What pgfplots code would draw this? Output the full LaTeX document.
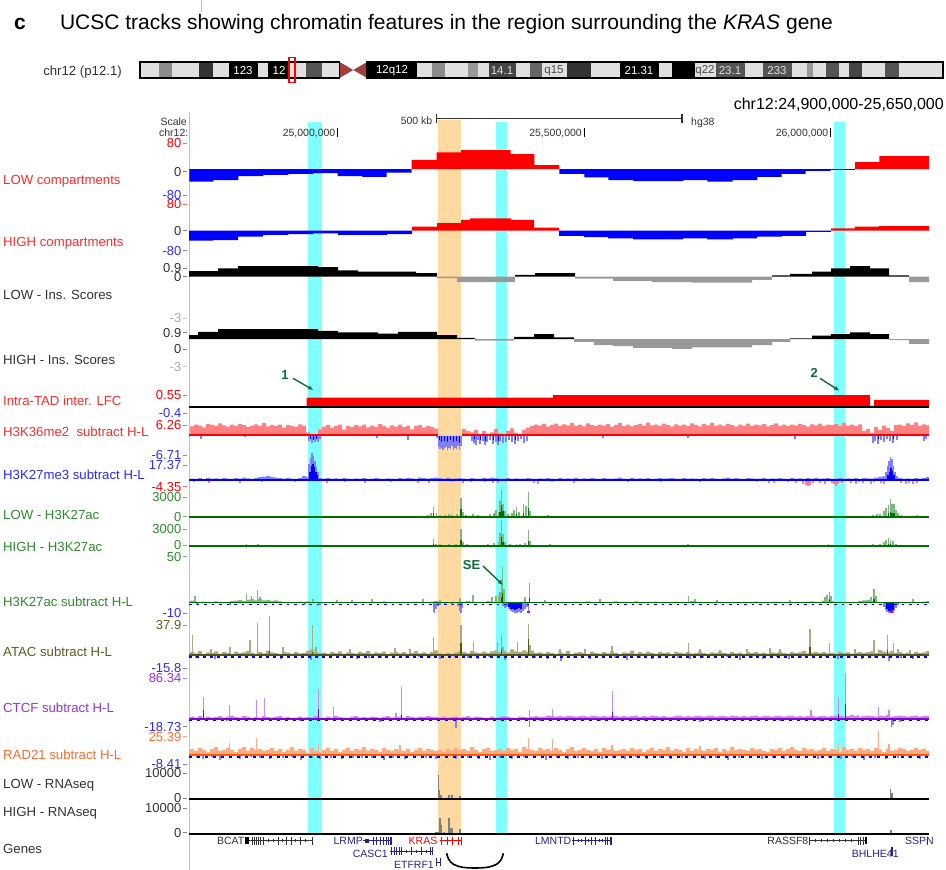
\documentclass[border=0pt]{standalone}
\usepackage{pgfplots}
\pgfplotsset{compat=1.18}
\usepackage{fontspec}
\setmainfont{Liberation Sans}
\usetikzlibrary{arrows.meta}
\definecolor{hlcyan}{HTML}{80FFFF}
\definecolor{hlorange}{HTML}{FFD9A0}
\definecolor{pinkline}{HTML}{FFAAAA}
\definecolor{ured}{HTML}{FF0000}
\definecolor{ublue}{HTML}{0000FF}
\definecolor{lred}{HTML}{FF8080}
\definecolor{lblue}{HTML}{8080FF}
\definecolor{txtred}{HTML}{FF2A2A}
\definecolor{txtblue}{HTML}{2A2AFF}
\definecolor{txtgray}{HTML}{333333}
\definecolor{lgray}{HTML}{AAAAAA}
\definecolor{gscore}{HTML}{999999}
\definecolor{dgreen}{HTML}{006E00}
\definecolor{lgreen}{HTML}{80B880}
\definecolor{txtgreen}{HTML}{2E8B2E}
\definecolor{dolive}{HTML}{555510}
\definecolor{lolive}{HTML}{AAAA80}
\definecolor{txtolive}{HTML}{5C5C24}
\definecolor{dpurple}{HTML}{8A00CC}
\definecolor{lpurple}{HTML}{CC88EE}
\definecolor{txtpurple}{HTML}{9932CC}
\definecolor{dorange}{HTML}{FF5A00}
\definecolor{lorange}{HTML}{FFAA80}
\definecolor{txtorange}{HTML}{FF6A30}
\definecolor{rnagray}{HTML}{808080}
\definecolor{navy}{HTML}{24248A}
\definecolor{annog}{HTML}{0A6B3C}
\definecolor{centro}{HTML}{A0403A}
\definecolor{idlight}{HTML}{E0E0E0}
\newcommand{\fs}[1]{\fontsize{#1pt}{#1pt}\selectfont}
\newcommand\lab[3]{\node[anchor=base west,inner sep=0pt,text=#1,font=\fs{13.2},yshift=-4.7pt] at (3pt,-#2pt) {#3};}
\newcommand\tl[3]{\node[anchor=base east,inner sep=0pt,text=#1,font=\fs{13},yshift=-4.6pt] at (181.5pt,-#2pt) {#3};\draw[#1!60,line width=0.6pt] (183pt,-#2pt)--(186.5pt,-#2pt);}
\newcommand\band[3]{\addplot[fill=#1,draw=none] coordinates {(#2,0)(#3,0)(#3,1)(#2,1)} --cycle;}
\pgfplotsset{trk/.style={scale only axis, width=740pt, xmin=189, xmax=929, hide axis, anchor=south west}}
\begin{document}
\begin{tikzpicture}
\useasboundingbox (0pt,0pt) rectangle (946pt,-870pt);
% ---------- title ----------
\node[anchor=base west,inner sep=0pt,font=\fs{21}\bfseries] at (14pt,-29.5pt) {c};
\node[anchor=base east,inner sep=0pt,font=\fs{21}] at (833pt,-29.5pt) {UCSC tracks showing chromatin features in the region surrounding the \textit{KRAS} gene};
% ---------- ideogram ----------
\node[anchor=base east,inner sep=0pt,font=\fs{13.2},text=txtgray] at (122pt,-75.2pt) {chr12 (p12.1)};
\begin{axis}[scale only axis, hide axis, width=946pt, height=16pt, xmin=0, xmax=946, ymin=0, ymax=1, at={(0pt,-78pt)}, anchor=south west, clip=false]
\band{idlight}{140}{339.5}
\band{idlight}{367.1}{943}
\band{black!45}{158.7}{171.7}
\band{black!80}{199.3}{213.4}
\band{black}{229}{257.7}
\band{black}{268}{289}
\band{black!67}{305.6}{321.8}
\band{black}{367.1}{416.6}
\band{black!45}{432.2}{445.3}
\band{black!40}{467.7}{478.1}
\band{black!73}{488.5}{515.6}
\band{black!60}{530.2}{541.7}
\band{black!80}{566.7}{591.2}
\band{black}{619.8}{658.9}
\band{black}{672}{695.4}
\band{black!67}{716.2}{744.9}
\band{black!67}{763.1}{791.8}
\band{black!40}{807.4}{812.6}
\band{black!67}{825.6}{838.7}
\band{black!73}{849.1}{862.1}
\band{black!67}{884.6}{898.6}
\addplot[fill=centro,draw=none] coordinates {(339.5,0)(339.5,1)(353.3,0.5)} --cycle;
\addplot[fill=centro,draw=none] coordinates {(367.1,0)(367.1,1)(353.3,0.5)} --cycle;
\addplot[black,line width=1.3pt] coordinates {(140,0)(339.5,0)(339.5,1)(140,1)} --cycle;
\addplot[black,line width=1.3pt] coordinates {(367.1,0)(943,0)(943,1)(367.1,1)} --cycle;
\addplot[ured,line width=1.5pt] coordinates {(289,-0.29)(295.2,-0.29)(295.2,1.27)(289,1.27)} --cycle;
\end{axis}
\begin{scope}[every node/.style={inner sep=0pt,font=\fs{11.5}}]
\node[text=white] at (243pt,-70.5pt) {123};
\node[text=white] at (279pt,-70.5pt) {12};
\node[text=white] at (392pt,-70.5pt) {12q12};
\node[text=black!12] at (502pt,-70.5pt) {14.1};
\node[text=black!70] at (554pt,-70.5pt) {q15};
\node[text=white] at (639pt,-70.5pt) {21.31};
\node[text=black!70] at (705pt,-70.5pt) {q22};
\node[text=black!12] at (730pt,-70.5pt) {23.1};
\node[text=black!12] at (777pt,-70.5pt) {233};
\end{scope}
\node[anchor=base east,inner sep=0pt,font=\fs{16}] at (944pt,-109pt) {chr12:24,900,000-25,650,000};
% ---------- background: highlights, ruler ----------
\begin{axis}[trk, at={(189pt,-870pt)}, height=760pt, ymin=0, ymax=760, clip=false]
\addplot[fill=hlcyan,draw=none] coordinates {(308,37.3)(321.7,37.3)(321.7,748.3)(308,748.3)} --cycle;
\addplot[fill=hlorange,draw=none] coordinates {(438,37)(461,37)(461,750)(438,750)} --cycle;
\addplot[fill=hlcyan,draw=none] coordinates {(496,37.3)(506.7,37.3)(506.7,748.3)(496,748.3)} --cycle;
\addplot[fill=hlcyan,draw=none] coordinates {(834,37.3)(845,37.3)(845,748.3)(834,748.3)} --cycle;
\addplot[pinkline,line width=1pt] coordinates {(189,0)(189,758.3)};
\addplot[pinkline,line width=0.8pt] coordinates {(201,858)(201,870)};
\addplot[txtgray,line width=1.3pt] coordinates {(436.7,751.7)(682,751.7)};
\addplot[txtgray,line width=1.3pt] coordinates {(436.7,747)(436.7,756.5)};
\addplot[txtgray,line width=1.3pt] coordinates {(682,747)(682,756.5)};
\addplot[black,line width=1pt] coordinates {(337.7,733.3)(337.7,742)};
\addplot[black,line width=1pt] coordinates {(584.3,733.3)(584.3,742)};
\addplot[black,line width=1pt] coordinates {(830.7,733.3)(830.7,742)};
\end{axis}
\begin{scope}[every node/.style={inner sep=0pt,font=\fs{10.5},text=txtgray}]
\node[anchor=base east] at (187pt,-125.5pt) {Scale};
\node[anchor=base east] at (188.5pt,-136.8pt) {chr12:};
\node[anchor=base east] at (335.5pt,-136.8pt) {25,000,000};
\node[anchor=base east] at (582pt,-136.8pt) {25,500,000};
\node[anchor=base east] at (828.5pt,-136.8pt) {26,000,000};
\node[anchor=base east] at (432.5pt,-124.5pt) {500 kb};
\node[anchor=base west] at (691pt,-125.5pt) {hg38};
\end{scope}
% ---------- LOW compartments ----------
\begin{axis}[trk, at={(189pt,-195pt)}, height=52pt, ymin=-80, ymax=80]
\addplot[const plot,fill=ured,draw=none] coordinates {(411.7,28)(436.7,51)(461,58)(510.7,46)(534.3,12)(559.3,12)} \closedcycle;
\addplot[const plot,fill=ured,draw=none] coordinates {(855,21)(879.3,40)(929,40)} \closedcycle;
\addplot[const plot,fill=ublue,draw=none] coordinates {(189.3,-39)(213.3,-34)(238.3,-22)(263.3,-18)(288.3,-15)(313.3,-13)(337.7,-22)(362.3,-24)(386.7,-11)(411.7,-11)} \closedcycle;
\addplot[const plot,fill=ublue,draw=none] coordinates {(559.3,-15)(584.3,-26)(608.3,-34)(633.3,-37)(683.3,-34)(707.3,-39)(732.7,-34)(757.3,-24)(781.7,-15)(805.7,-6)(830.7,-3)(855,-3)} \closedcycle;
\end{axis}
% ---------- HIGH compartments ----------
\begin{axis}[trk, at={(189pt,-256pt)}, height=51pt, ymin=-80, ymax=80]
\addplot[const plot,fill=ublue,draw=none] coordinates {(189,-32)(213,-30)(238,-19)(263,-14)(288,-11)(313,-9)(338,-14)(363,-14)(387,-11)(412,-11)} \closedcycle;
\addplot[const plot,fill=ured,draw=none] coordinates {(412,12)(437,23)(461,33)(470,38)(511,33)(534,9)(559,9)} \closedcycle;
\addplot[const plot,fill=ublue,draw=none] coordinates {(559,-17)(584,-21)(608,-25)(633,-28)(683,-25)(707,-28)(733,-25)(757,-19)(782,-17)(806,-4)(831,-4)} \closedcycle;
\addplot[const plot,fill=ured,draw=none] coordinates {(831,7)(855,12)(879,14)(929,14)} \closedcycle;
\end{axis}
% ---------- LOW Ins ----------
\begin{axis}[trk, at={(189pt,-309.5pt)}, height=42.9pt, ymin=-3, ymax=0.9]
\addplot[const plot,fill=black,draw=none] coordinates {(189,0.5)(218,0.75)(238,1.05)(258,1.2)(298,1.1)(318,0.85)(338,0.55)(358,0.45)(416,0.3)(437,0.3)} \closedcycle;
\addplot[const plot,fill=gscore,draw=none] coordinates {(437,-0.15)(457,-0.5)(515,-0.5)} \closedcycle;
\addplot[const plot,fill=black,draw=none] coordinates {(515,0.15)(535,0.3)(575,0.3)} \closedcycle;
\addplot[const plot,fill=gscore,draw=none] coordinates {(575,-0.2)(613,-0.4)(652,-0.5)(692,-0.55)(752,-0.3)(772,-0.3)} \closedcycle;
\addplot[const plot,fill=black,draw=none] coordinates {(772,0.1)(790,0.25)(812,0.45)(831,0.75)(850,0.95)(870,0.75)(889,0.1)(909,0.1)} \closedcycle;
\addplot[const plot,fill=gscore,draw=none] coordinates {(909,-0.5)(929,-0.5)} \closedcycle;
\end{axis}
% ---------- HIGH Ins ----------
\begin{axis}[trk, at={(189pt,-372pt)}, height=42.9pt, ymin=-3, ymax=0.9]
\addplot[const plot,fill=black,draw=none] coordinates {(189,0.35)(198,0.65)(218,0.9)(238,1.2)(278,1.05)(318,0.75)(338,0.6)(378,0.5)(398,0.65)(437,0.35)(457,0.1)(475,0.1)} \closedcycle;
\addplot[const plot,fill=gscore,draw=none] coordinates {(475,-0.15)(514,-0.15)} \closedcycle;
\addplot[const plot,fill=black,draw=none] coordinates {(514,0.2)(534,0.45)(554,0.15)(574,0.15)} \closedcycle;
\addplot[const plot,fill=gscore,draw=none] coordinates {(574,-0.25)(594,-0.55)(613,-0.65)(633,-0.8)(672,-0.9)(692,-0.75)(752,-0.55)(772,-0.25)(790,-0.25)} \closedcycle;
\addplot[const plot,fill=black,draw=none] coordinates {(790,0.05)(812,0.3)(831,0.45)(850,0.6)(870,0.45)(889,0.45)} \closedcycle;
\addplot[const plot,fill=gscore,draw=none] coordinates {(889,-0.1)(909,-0.45)(929,-0.45)} \closedcycle;
\end{axis}
% ---------- Intra-TAD LFC ----------
\begin{axis}[trk, at={(189pt,-414.7pt)}, height=20.7pt, ymin=-0.4, ymax=0.55]
\addplot[black,line width=1.5pt] coordinates {(189,-0.04)(929,-0.04)};
\addplot[const plot,fill=ured,draw=none] coordinates {(306.7,0.38)(553,0.50)(870,0)(874,0.275)(929,0.275)} \closedcycle;
\end{axis}
% ---------- H3K36me2 ----------
\begin{axis}[trk, at={(189pt,-450pt)}, height=28pt, ymin=-6.71, ymax=6.26]
\addplot[const plot,fill=lred,draw=none] table[x expr=190+4*\coordindex, y index=0, row sep=\\] {
4.2\\5.1\\4.6\\3.8\\5.3\\4.9\\4.4\\5.6\\4.7\\4.1\\
5.0\\4.3\\5.4\\4.8\\3.9\\4.6\\5.2\\4.5\\5.7\\4.2\\
4.9\\4.4\\5.1\\3.7\\4.8\\4.3\\4.0\\5.2\\4.6\\1.5\\
0.6\\0\\2.8\\4.1\\4.9\\3.6\\4.4\\5.0\\2.7\\4.5\\
3.9\\4.8\\4.2\\5.1\\3.8\\4.6\\4.0\\5.3\\4.4\\3.5\\
4.7\\4.1\\5.0\\3.9\\4.5\\2.9\\4.3\\4.8\\3.7\\4.4\\
4.0\\3.2\\0\\0\\0\\0\\0\\0\\3.0\\2.2\\
1.5\\2.6\\0.5\\2.0\\0\\1.4\\3.1\\1.0\\0\\2.2\\
3.3\\1.2\\0.4\\2.6\\3.6\\4.3\\5.0\\4.6\\5.4\\4.1\\
4.9\\5.5\\4.4\\5.2\\4.7\\5.8\\4.5\\5.0\\4.2\\5.6\\
4.8\\4.3\\5.1\\4.6\\5.3\\4.0\\4.9\\5.7\\4.4\\5.0\\
4.2\\4.8\\5.4\\4.5\\6.0\\4.7\\5.1\\4.3\\5.5\\4.8\\
4.1\\5.2\\4.6\\5.0\\4.4\\5.6\\4.9\\4.2\\5.3\\4.7\\
5.9\\4.5\\5.0\\4.3\\5.4\\4.8\\4.1\\5.1\\4.6\\5.5\\
4.4\\5.0\\4.7\\5.3\\4.2\\4.9\\5.6\\4.5\\5.1\\4.3\\
5.0\\4.6\\5.4\\4.8\\4.1\\5.2\\4.7\\5.5\\4.4\\5.0\\
4.8\\5.3\\4.5\\5.7\\4.6\\5.0\\4.3\\5.2\\2.0\\3.1\\
1.2\\4.0\\2.5\\4.6\\3.4\\2.2\\4.8\\5.1\\4.4\\5.6\\
4.9\\6.1\\4.5\\5.2\\4.7\\4.7\\
} \closedcycle;
\addplot[ycomb,lblue,line width=1.2pt] coordinates {(201,-1.5)(245,-0.8)(309,-2.5)(312,-3.4)(315,-2.8)(318,-3.0)(320,-1.8)(377,-1.2)(408,-2.2)(437,-1)
(438.5,-5.2)(440,-6.3)(441.5,-5.8)(443,-6.7)(444.5,-6.0)(446,-5.5)(447.5,-6.5)(449,-5.9)(450.5,-6.2)(452,-5.0)(453.5,-6.6)(455,-5.7)(456.5,-6.1)(458,-4.8)(459.5,-6.7)(461,-5.0)
(472,-2.5)(474,-3.5)(476,-4.2)(478,-2.0)(480,-3.8)(483,-2.6)(485,-4.5)(487,-3.0)(490,-2.2)(493,-4.0)(496,-3.1)(498,-4.6)(500,-2.4)(503,-3.6)(506,-2.8)(509,-1.9)(512,-3.2)(515,-3.9)(518,-2.5)(521,-1.8)(524,-3.4)(527,-2.6)
(603,-1.2)(688,-1.0)(795,-1.5)(873,-3.5)(875,-2.6)(878,-4.0)(881,-2.2)(884,-3.1)(887,-1.8)(890,-2.7)(893,-3.3)(897,-2.0)(924,-2.4)(926,-1.6)};
\addplot[ured,line width=2pt] coordinates {(189,0.35)(438,0.35)};
\addplot[ured,line width=2pt] coordinates {(462,0.35)(929,0.35)};
\addplot[ycomb,ublue,line width=1pt] coordinates {(310,-1.5)(313,-2)(316,-1.6)(439,-2)(441,-3)(444,-2.5)(447,-3.2)(450,-2)(453,-3)(456,-2.4)(459,-3.4)(474,-1.5)(480,-2)(485,-2.4)(493,-2)(498,-2.6)(515,-2)(878,-1.8)(893,-1.5)};
\end{axis}
% ---------- H3K27me3 ----------
\begin{axis}[trk, at={(189pt,-487pt)}, height=34.5pt, ymin=-4.35, ymax=17.37]
\addplot[const plot,fill=lblue,draw=none] table[x expr=190+4*\coordindex, y index=0, row sep=\\] {
1.0\\0.8\\1.2\\0.6\\1.4\\0.9\\1.1\\0.7\\1.3\\1.0\\
0.8\\1.2\\0.9\\1.5\\1.1\\0.7\\1.3\\1.8\\2.2\\2.6\\
2.0\\1.5\\1.2\\0.9\\1.4\\1.0\\0.8\\1.2\\2.5\\2.0\\
3.5\\2.5\\1.2\\1.0\\1.3\\0.9\\1.1\\0.8\\1.2\\1.0\\
0.7\\1.1\\0.9\\1.2\\0.8\\1.0\\1.3\\0.9\\0.7\\1.1\\
1.0\\0.8\\1.2\\0.9\\1.4\\1.1\\0.8\\1.6\\1.2\\1.0\\
1.3\\1.5\\1.2\\1.0\\1.4\\0.9\\1.1\\1.3\\1.0\\0.8\\
1.2\\1.0\\0.9\\1.4\\1.1\\1.6\\1.2\\0.9\\1.0\\1.3\\
0.8\\1.1\\1.0\\0.9\\1.2\\1.0\\0.8\\1.1\\0.9\\1.3\\
1.0\\0.7\\1.2\\0.9\\1.1\\1.0\\1.4\\0.8\\1.1\\0.9\\
1.2\\1.0\\0.8\\1.3\\1.0\\0.9\\1.1\\1.5\\1.0\\0.8\\
1.2\\0.9\\1.1\\1.0\\1.3\\0.8\\1.0\\1.2\\0.9\\1.1\\
1.4\\1.0\\0.8\\1.2\\0.9\\1.1\\1.0\\0.7\\1.2\\0.9\\
1.3\\1.0\\0.8\\1.1\\1.5\\0.9\\1.2\\1.0\\0.8\\1.3\\
1.1\\0.9\\1.0\\1.4\\0.8\\1.1\\0.9\\1.2\\1.0\\0.7\\
1.3\\1.0\\1.1\\0.8\\1.2\\1.0\\1.4\\0.9\\1.1\\1.2\\
0.8\\1.0\\1.3\\0.9\\1.1\\1.0\\1.2\\0.8\\1.4\\1.1\\
0.9\\1.6\\2.0\\2.4\\1.5\\1.2\\0.9\\1.3\\1.0\\1.1\\
0.8\\1.2\\1.0\\1.4\\1.8\\1.8\\
} \closedcycle;
\addplot[ycomb,lblue,line width=1.3pt] coordinates {(309,10)(310.5,14)(312,17)(313.5,15)(315,12)(316.5,8)(318,5)(886,5)(887.5,9)(889,12)(890.5,14.5)(892,13)(893.5,9)(895,5)(897,2.5)};
\addplot[ycomb,lred,line width=1.2pt] coordinates {(194,-1.2)(209,-1.8)(240,-2)(262,-1.5)(295,-1.4)(327,-1.8)(345,-1)(365,-1.6)(391,-1.2)(418,-2)(429,-1.7)(452,-1.5)(463,-1.9)(471,-1.5)(485,-1)(493,-1.8)(498,-2)(534,-1.8)(538,-2.2)(552,-1.2)(574,-1.8)(628,-1.2)(661,-1.5)(700,-1)(757,-1.3)(769,-1.6)(774,-1.9)(788,-1.2)(796,-1.8)(803,-2.2)(806,-3.0)(808,-3.8)(810,-2.8)(813,-2.0)(820,-1.6)(825,-2.2)(832,-1.8)(834,-2.6)(836,-3.5)(838,-2.4)(842,-1.8)(851,-1.6)(856,-2.2)(859,-1.4)(863,-1.9)(871,-2.4)(874,-1.5)(881,-1.8)(884,-2.4)(901,-1.6)(906,-2.2)(909,-1.9)(913,-2.5)(917,-2.0)};
\addplot[ublue,line width=2pt] coordinates {(189,0)(929,0)};
\addplot[ycomb,ublue,line width=1.2pt] coordinates {(310,5)(311.5,9)(313,10)(314.5,8)(316,5)(317.5,3)(888,3)(889.5,5)(891,7.5)(892.5,6)(894,3)};
\end{axis}
% ---------- LOW H3K27ac ----------
\begin{axis}[trk, at={(189pt,-519pt)}, height=29pt, ymin=-215, ymax=3000]
\addplot[ycomb,lgreen,line width=1.2pt] coordinates {(312,150)(428,250)(431,400)(433.3,1150)(436.7,400)(440,200)(445,250)(449,300)(452,250)(457,350)(461,2100)(463,600)(466,250)(473,300)(478,200)(484,150)(490,350)(494,500)(496,800)(498.3,600)(500,1800)(501.7,3100)(503,1500)(505,700)(508,300)(512,500)(514,800)(516.7,1150)(519,600)(523.3,1500)(526,1200)(528.3,2800)(530,700)(535,150)(543,150)(548,200)(551,150)(600,100)(688,150)(787,100)(837,150)(873,250)(877,350)(880,300)(884,700)(886,1000)(888.3,1300)(890.7,1970)(892,1400)(894,1500)(896,800)(898,400)(901,250)(910,150)(917,200)(920,150)};
\addplot[dgreen,line width=2.5pt] coordinates {(189,0)(929,0)};
\addplot[ycomb,dgreen,line width=1.2pt] coordinates {(433.3,400)(461,900)(500,600)(501.7,1300)(503,700)(516.7,300)(523.3,500)(528.3,1000)(888.3,400)(890.7,590)(892,500)(894,400)};
\end{axis}
% ---------- HIGH H3K27ac ----------
\begin{axis}[trk, at={(189pt,-548pt)}, height=28pt, ymin=-215, ymax=3000]
\addplot[ycomb,lgreen,line width=1.2pt] coordinates {(246.7,250)(250,150)(258,200)(312,150)(428,150)(433.3,770)(436,300)(440,200)(449,250)(456,250)(461,1950)(463,500)(467,200)(488,200)(494,400)(498.3,500)(500,1500)(501.7,3000)(503,1400)(505,500)(510,300)(516.7,300)(520,200)(525,400)(528.3,1850)(530,600)(550,250)(688,200)(828.3,200)(873,200)(880,300)(884,500)(886,700)(888.3,890)(890.7,700)(893,600)(896,300)};
\addplot[dgreen,line width=2.5pt] coordinates {(189,0)(929,0)};
\addplot[ycomb,dgreen,line width=1.2pt] coordinates {(433.3,250)(461,700)(501.7,1070)(503,500)(528.3,600)(888.3,300)(890.7,250)};
\end{axis}
% ---------- H3K27ac subtract ----------
\begin{axis}[trk, at={(189pt,-612.5pt)}, height=56.5pt, ymin=-10, ymax=50]
\addplot[const plot,fill=lgreen,draw=none] table[x expr=190+4*\coordindex, y index=0, row sep=\\] {
2.5\\1.2\\0.8\\1.6\\0.5\\1.0\\1.8\\1.2\\0.6\\1.4\\
2.0\\2.6\\3.2\\2.2\\3.8\\4.5\\3.0\\4.2\\2.8\\3.5\\
2.4\\3.0\\1.8\\1.2\\0.6\\1.0\\0.8\\1.5\\1.0\\1.8\\
0.8\\1.2\\0.5\\0.8\\1.2\\0.6\\1.0\\1.4\\0.7\\1.1\\
0.5\\0.9\\1.3\\1.6\\1.0\\1.4\\0.8\\1.2\\1.8\\1.0\\
0.6\\1.4\\1.1\\0.8\\1.2\\1.0\\1.5\\0.7\\1.3\\1.0\\
1.6\\2.0\\0\\0\\0\\0\\0\\0\\1.5\\2.4\\
1.2\\1.0\\0.8\\1.4\\2.0\\1.0\\1.6\\2.5\\0\\0\\
0\\0\\0\\0\\0\\0.5\\1.0\\1.2\\1.4\\0.8\\
1.2\\1.0\\0.6\\1.3\\1.1\\0.9\\1.5\\1.0\\1.2\\1.8\\
1.4\\1.0\\1.6\\1.2\\0.8\\1.4\\1.9\\1.1\\1.5\\1.0\\
1.3\\1.7\\1.2\\0.9\\1.4\\1.1\\1.6\\1.0\\1.3\\0.8\\
1.2\\1.5\\1.0\\1.4\\0.9\\2.0\\1.6\\1.2\\0.8\\1.2\\
1.0\\1.4\\1.1\\0.7\\1.3\\1.0\\1.2\\0.9\\1.4\\1.0\\
1.2\\1.6\\1.1\\1.3\\0.9\\1.2\\1.5\\1.1\\1.0\\1.4\\
0.8\\1.2\\1.0\\1.3\\1.6\\1.8\\1.2\\1.4\\2.5\\3.0\\
2.2\\1.0\\1.3\\1.0\\1.1\\0.9\\1.4\\2.0\\2.8\\3.5\\
2.2\\1.5\\1.0\\0\\0\\0\\0\\1.0\\1.2\\0.8\\
1.4\\1.0\\1.3\\1.6\\2.0\\2.0\\
} \closedcycle;
\addplot[ycomb,lgreen,line width=1.2pt] coordinates {(195,8)(246.7,10)(251.7,8)(257.7,14)(260,6)(313,4)(337,3)(352,3)(372,4)(423,4)(440,3)(460,5)(473,9)(492,6)(496,7)(498.3,9)(500,12)(501.7,25)(502.7,38)(504,15)(525,6)(529.3,21)(545,3)(600,4)(688.3,7)(695,4)(717,3)(790,3)(825,6)(827,9)(829.3,12)(831,7)(871,6)(874,15)(876,7)(913,4)};
\addplot[ycomb,lblue,line width=1.2pt] coordinates {(197,-1.5)(230,-2)(305,-1.5)(320,-2)(433.5,-9)(434.5,-11)(436,-6)(438,-3)(440,-2)(445,-2.5)(452,-2)(458,-3)(460,-8)(461,-11)(462,-5)(503,-3)(505,-5)(507,-4)(509,-6)(511,-8)(513,-9)(515,-10)(517,-11)(519,-9)(521,-11)(523,-8)(525,-6)(527,-4)(528.5,-11)(884,-4)(885.5,-7)(887,-9)(888.5,-11)(890,-11)(891.5,-11)(893,-11)(894.5,-8)(896,-5)(898,-2)};
\addplot[dgreen,line width=1.2pt] coordinates {(189,0.3)(929,0.3)};
\addplot[ublue,line width=1.6pt,dash pattern=on 2.5pt off 5pt] coordinates {(189,-1.3)(929,-1.3)};
\addplot[ycomb,ublue,line width=1.2pt] coordinates {(509,-4)(511,-6)(513,-6)(515,-7)(517,-6)(519,-5)(521,-6)(887,-6)(889,-8)(891,-9)(893,-7)};
\addplot[ycomb,dgreen,line width=1.2pt] coordinates {(501.7,6)(502.7,10.6)(529.3,5)(829.3,4)(874,4)};
\addplot[magenta,line width=2.5pt] coordinates {(528.5,-8.3)(528.5,-10)};
\addplot[magenta,line width=2.5pt] coordinates {(891.5,-8.3)(891.5,-10)};
\end{axis}
% ---------- ATAC ----------
\begin{axis}[trk, at={(189pt,-672pt)}, height=56pt, ymin=-15.8, ymax=37.9]
\addplot[const plot,fill=lolive,draw=none] table[x expr=190+4*\coordindex, y index=0, row sep=\\] {
3.5\\2.0\\4.2\\1.5\\3.0\\2.5\\4.0\\1.8\\3.2\\2.6\\
1.5\\3.8\\2.2\\3.0\\4.5\\2.8\\1.6\\3.4\\2.0\\4.8\\
3.0\\2.4\\1.2\\3.6\\2.8\\1.8\\3.2\\2.0\\2.6\\4.5\\
6.0\\3.0\\2.2\\2.8\\1.6\\3.4\\2.2\\4.0\\1.5\\3.0\\
2.4\\1.8\\3.6\\2.6\\4.2\\1.8\\3.0\\2.2\\3.8\\1.4\\
2.8\\3.4\\2.0\\3.2\\1.6\\2.6\\4.4\\2.0\\3.0\\1.8\\
3.6\\5.0\\2.0\\1.0\\2.5\\1.5\\3.0\\4.0\\3.5\\2.0\\
4.5\\3.0\\2.2\\3.8\\2.6\\4.0\\5.0\\3.2\\4.5\\3.0\\
6.0\\4.0\\3.2\\5.0\\3.8\\4.6\\2.5\\3.0\\1.8\\3.6\\
2.4\\1.2\\3.0\\2.0\\4.2\\1.6\\2.8\\3.4\\2.2\\1.5\\
3.8\\2.6\\1.8\\3.2\\2.0\\4.0\\2.6\\1.4\\3.0\\2.4\\
4.6\\1.8\\3.2\\2.0\\3.8\\2.6\\1.6\\3.4\\2.2\\3.0\\
1.4\\3.6\\2.8\\2.0\\3.2\\1.8\\2.6\\4.0\\2.4\\1.6\\
3.0\\2.2\\3.8\\2.6\\1.8\\3.4\\2.0\\2.8\\1.4\\3.2\\
2.4\\3.6\\2.0\\2.8\\1.6\\3.0\\2.2\\3.8\\2.6\\1.8\\
3.4\\2.2\\3.0\\4.4\\2.0\\2.8\\3.6\\2.4\\3.2\\2.0\\
2.6\\1.6\\3.4\\2.2\\3.0\\1.8\\2.8\\3.6\\2.4\\3.2\\
4.0\\2.6\\5.2\\3.8\\3.0\\4.4\\2.2\\3.6\\2.0\\2.8\\
1.6\\3.4\\2.2\\3.0\\4.2\\4.2\\
} \closedcycle;
\addplot[ycomb,lolive,line width=1.2pt] coordinates {(192.7,20)(211,6)(230,8)(250,15)(257.7,31)(269.3,37.9)(283,8)(312.3,29)(316,8)(350,6)(395,7)(410,6)(433.3,18)(461,29)(473.3,13)(497.3,13)(501.7,20)(503,8)(517.3,13)(528.3,30)(530,10)(560,6)(585,6)(612,9)(688.3,12)(700,6)(720,5)(747,6)(770,7)(780,6)(810,25)(829.3,12)(855,6)(874,15)(887.3,20)(893.3,12)(898,6)(910,5)};
\addplot[ycomb,lblue,line width=1.1pt] coordinates {(196,-2)(204,-1.5)(215,-3)(226,-2)(240,-1.5)(254,-2.5)(268,-1.8)(281,-3)(295,-2)(303,-2.5)(311,-4)(318,-1.8)(330,-2.2)(345,-1.5)(357,-3)(369,-2)(381,-2.6)(394,-1.8)(406,-2.4)(419,-1.5)(430,-2)(440,-3.2)(455,-1.6)(468,-2.2)(478,-3.5)(489,-1.8)(505,-4.4)(512,-2.5)(520,-1.8)(535,-2)(548,-3.5)(561,-4.8)(574,-2.6)(590,-3.2)(603,-1.8)(615,-2.8)(627,-4)(640,-2)(652,-3.5)(666,-1.6)(678,-2.6)(690,-3.8)(703,-2)(716,-2.8)(727,-1.8)(740,-4)(752,-2.4)(763,-3)(777,-1.8)(789,-3.2)(801,-2)(814,-2.8)(826,-1.6)(838,-3.6)(850,-2)(862,-3)(875,-2.4)(889,-5.2)(901,-2.8)(913,-3.4)(925,-1.8)};
\addplot[ublue,line width=1.5pt,dash pattern=on 3pt off 4pt] coordinates {(189,-1.2)(929,-1.2)};
\addplot[dolive,line width=1.8pt] coordinates {(189,0.5)(929,0.5)};
\addplot[ycomb,dolive,line width=1.2pt] coordinates {(269.3,4)(312.3,3)(461,12)(501.7,6)(528.3,16)(810,8)(887.3,5)};
\end{axis}
% ---------- CTCF ----------
\begin{axis}[trk, at={(189pt,-729.3pt)}, height=56.3pt, ymin=-18.73, ymax=86.34]
\addplot[const plot,fill=lpurple,draw=none] table[x expr=190+4*\coordindex, y index=0, row sep=\\] {
5\\3\\6\\2\\5\\3\\4\\6\\3\\5\\
7\\4\\3\\6\\5\\2\\4\\3\\6\\4\\
3\\5\\6\\3\\4\\2\\3\\5\\3\\4\\
3\\6\\3\\2\\5\\3\\6\\4\\3\\2\\
5\\6\\3\\4\\3\\5\\4\\2\\5\\6\\
3\\4\\5\\3\\6\\4\\3\\5\\4\\6\\
5\\4\\3\\5\\2\\4\\5\\3\\4\\6\\
3\\5\\4\\3\\2\\5\\3\\4\\6\\5\\
3\\2\\5\\4\\3\\5\\6\\4\\5\\7\\
6\\5\\6\\5\\7\\6\\5\\6\\6\\5\\
7\\6\\5\\6\\5\\7\\6\\5\\6\\5\\
6\\7\\4\\6\\5\\7\\6\\5\\6\\4\\
5\\6\\7\\5\\6\\5\\7\\6\\5\\6\\
7\\5\\6\\6\\5\\7\\6\\5\\6\\5\\
6\\7\\5\\6\\6\\5\\7\\6\\5\\6\\
7\\5\\6\\5\\6\\7\\5\\6\\6\\5\\
6\\7\\6\\5\\6\\8\\6\\5\\6\\7\\
6\\5\\7\\6\\8\\5\\6\\7\\6\\5\\
6\\7\\5\\6\\7\\7\\
} \closedcycle;
\addplot[ycomb,lpurple,line width=1.2pt] coordinates {(203.3,41)(229.3,27)(256.7,36)(264.3,39)(318.3,56)(333.3,22)(396,11)(401.7,60)(529.3,17)(552.3,19)(612.3,53)(811,17)(838.3,41)(845.7,86)(858,8)(870,6)(878.3,22)(889,17)};
\addplot[ycomb,lblue,line width=1.1pt] coordinates {(227,-4)(300,-4)(350,-3)(380,-5)(456,-17)(470,-4)(529.3,-15)(540,-3)(600,-4)(645,-3)(700,-5)(780,-4)(820,-4)(891.7,-14)(893,-10)(900,-5)};
\addplot[ublue,line width=1.5pt,dash pattern=on 3pt off 5pt] coordinates {(189,-2.5)(929,-2.5)};
\addplot[dpurple,line width=1.5pt] coordinates {(189,0.8)(929,0.8)};
\addplot[ycomb,dpurple,line width=1.2pt] coordinates {(203.3,17)(318.3,20)(401.7,8)(612.3,14)(838.3,10)(845.7,28)};
\end{axis}
% ---------- RAD21 ----------
\begin{axis}[trk, at={(189pt,-764pt)}, height=33pt, ymin=-8.41, ymax=25.39]
\addplot[const plot,fill=lorange,draw=none] table[x expr=190+4*\coordindex, y index=0, row sep=\\] {
7\\5\\8\\6\\4\\7\\9\\5\\6\\8\\
6\\4\\7\\9\\5\\8\\6\\7\\5\\6\\
8\\5\\7\\4\\6\\9\\5\\7\\6\\3\\
8\\5\\4\\6\\8\\5\\7\\4\\6\\8\\
5\\7\\6\\9\\5\\7\\6\\4\\8\\6\\
5\\7\\6\\5\\7\\4\\6\\8\\5\\7\\
6\\5\\6\\4\\7\\5\\8\\6\\7\\5\\
9\\6\\4\\7\\8\\5\\6\\7\\5\\8\\
6\\7\\4\\9\\7\\6\\5\\8\\6\\7\\
5\\8\\6\\4\\7\\9\\5\\6\\8\\6\\
5\\7\\4\\8\\6\\7\\5\\6\\7\\5\\
8\\6\\7\\4\\6\\8\\5\\7\\6\\9\\
5\\7\\6\\4\\8\\5\\7\\6\\5\\7\\
6\\8\\4\\7\\5\\9\\6\\7\\6\\5\\
8\\6\\7\\5\\4\\7\\6\\8\\5\\7\\
9\\6\\5\\8\\6\\7\\5\\6\\8\\5\\
7\\6\\4\\9\\6\\7\\5\\8\\6\\7\\
5\\8\\6\\4\\7\\5\\6\\8\\7\\5\\
6\\8\\6\\7\\5\\5\\
} \closedcycle;
\addplot[ycomb,lorange,line width=1.2pt] coordinates {(229.3,13)(256.7,18)(318.3,12)(400,11)(528.3,18)(552.3,17)(612,11)(700,10)(838.3,13)(878.3,25)(889,12)};
\addplot[ycomb,lblue,line width=1.1pt] coordinates {(197,-2)(203,-3)(212,-1.5)(220,-4)(231,-2)(240,-3)(251,-1.5)(260,-2.5)(270,-3.5)(283,-2)(292,-1.5)(301,-4)(312,-2.5)(320,-3)(331,-2)(342,-3.5)(353,-1.8)(362,-2.6)(372,-2)(384,-4.2)(393,-2.4)(405,-3)(414,-1.8)(426,-2.6)(436,-3.2)(447,-2)(456,-3.6)(468,-1.8)(479,-2.8)(490,-4)(500,-2.2)(512,-3)(524,-1.6)(535,-2.6)(546,-3.8)(557,-2)(568,-3)(578,-1.8)(590,-2.4)(602,-3.4)(613,-2)(625,-2.8)(636,-1.6)(647,-3.2)(660,-2.2)(671,-3.6)(682,-1.8)(694,-2.6)(705,-3)(716,-2)(728,-4)(739,-2.4)(750,-1.6)(762,-3.2)(773,-2.2)(784,-3.6)(796,-1.8)(807,-2.6)(818,-3.4)(829,-2)(841,-2.8)(852,-1.6)(864,-3.8)(875,-2.2)(886,-3)(898,-1.8)(909,-2.6)(920,-3.2)};
\addplot[ublue,line width=1.5pt,dash pattern=on 3pt off 5pt] coordinates {(189,-1.4)(929,-1.4)};
\addplot[dorange,line width=2.5pt] coordinates {(189,0.9)(929,0.9)};
\end{axis}
% ---------- RNAseq ----------
\begin{axis}[trk, at={(189pt,-801pt)}, height=28pt, ymin=-700, ymax=10000]
\addplot[ycomb,rnagray,line width=1.1pt] coordinates {(437,600)(438.7,9100)(439.5,3600)(441,1600)(444,500)(449,1500)(452,1500)(456,400)(460,1300)(890.7,3900)(892,2400)};
\addplot[black,line width=2pt] coordinates {(189,0)(929,0)};
\end{axis}
\begin{axis}[trk, at={(189pt,-836pt)}, height=28pt, ymin=-700, ymax=10000]
\addplot[ycomb,rnagray,line width=1.1pt] coordinates {(436,700)(438,800)(440,6100)(441,3500)(444,800)(449,6100)(450,2500)(452,2200)(456,600)(460,1900)(891,1500)};
\addplot[black,line width=2pt] coordinates {(189,0)(929,0)};
\end{axis}
% ---------- Genes ----------
\begin{axis}[trk, at={(189pt,-870pt)}, height=36pt, ymin=0, ymax=36, clip=false]
\addplot[txtgray,line width=0.8pt] coordinates {(245,29.5)(312.3,29.5)};
\addplot[txtgray,only marks,mark=|,mark size=4pt,mark options={line width=0.8pt}] coordinates {(252.3,29.5)(254,29.5)(256,29.5)(258.3,29.5)(260,29.5)(263.3,29.5)(278.3,29.5)(286.7,29.5)(291.7,29.5)(300,29.5)(312.3,29.5)};
\addplot[txtgray,only marks,mark=|,mark size=1.5pt,mark options={line width=0.6pt}] coordinates {(268,29.5)(273,29.5)(282,29.5)(295,29.5)(305,29.5)};
\addplot[fill=black,draw=none] coordinates {(245,26)(249,26)(249,33)(245,33)} --cycle;
\addplot[navy,line width=0.8pt] coordinates {(363.3,29.5)(391.7,29.5)};
\addplot[fill=navy,draw=none] coordinates {(365,27.5)(369,27.5)(369,31.5)(365,31.5)} --cycle;
\addplot[navy,only marks,mark=|,mark size=4pt,mark options={line width=0.9pt}] coordinates {(373.3,29.5)(376.7,29.5)(380,29.5)(383.3,29.5)(386.7,29.5)(388.5,29.5)(390,29.5)(391.5,29.5)};
\addplot[navy,line width=0.8pt] coordinates {(390,19)(432.7,19)};
\addplot[navy,only marks,mark=|,mark size=4pt,mark options={line width=0.9pt}] coordinates {(391.7,19)(394,19)(396.7,19)(399,19)(401.7,19)(411.7,19)(421.7,19)(430,19)(432.7,19)};
\addplot[navy,only marks,mark=|,mark size=1.5pt,mark options={line width=0.6pt}] coordinates {(406,19)(416,19)(426,19)};
\addplot[navy,line width=0.8pt] coordinates {(436.7,8)(440,8)};
\addplot[navy,only marks,mark=|,mark size=4pt,mark options={line width=0.9pt}] coordinates {(436.7,8)(440,8)};
\addplot[ured,line width=0.8pt] coordinates {(440,29.5)(461,29.5)};
\addplot[ured,only marks,mark=|,mark size=4pt,mark options={line width=0.9pt}] coordinates {(441.7,29.5)(447.3,29.5)(452.3,29.5)(458.3,29.5)(461,29.5)};
\addplot[navy,line width=0.8pt] coordinates {(571.7,29.5)(611.7,29.5)};
\addplot[navy,only marks,mark=|,mark size=4pt,mark options={line width=0.9pt}] coordinates {(573.3,29.5)(585,29.5)(591.7,29.5)(595,29.5)(605,29.5)(607.7,29.5)(610,29.5)(611.7,29.5)};
\addplot[navy,only marks,mark=|,mark size=1.5pt,mark options={line width=0.6pt}] coordinates {(578,29.5)(581,29.5)(588,29.5)(599,29.5)(602,29.5)};
\addplot[txtgray,line width=0.8pt] coordinates {(809.3,29.5)(866.7,29.5)};
\addplot[txtgray,only marks,mark=|,mark size=4pt,mark options={line width=0.9pt}] coordinates {(809.3,29.5)(858.3,29.5)(860.7,29.5)(863.3,29.5)};
\addplot[txtgray,only marks,mark=|,mark size=1.5pt,mark options={line width=0.6pt}] coordinates {(815,29.5)(821,29.5)(827,29.5)(833,29.5)(839,29.5)(845,29.5)(851,29.5)};
\addplot[fill=black,draw=none] coordinates {(864.5,26)(867,26)(867,33)(864.5,33)} --cycle;
\addplot[navy,line width=2.4pt] coordinates {(891.7,14.5)(891.7,23.5)};
\addplot[navy,line width=1pt] coordinates {(927.3,25.5)(927.3,33.5)};
\addplot[black,line width=1.6pt,smooth] coordinates {(446.7,16.7)(448.5,11)(453,6)(462,2.8)(475,2)(488,2.8)(497,6)(501.5,11)(503.3,16.7)};
\end{axis}
\begin{scope}[every node/.style={inner sep=0pt,font=\fs{10.5}}]
\node[anchor=base east,text=txtgray] at (244.5pt,-844.5pt) {BCAT};
\node[anchor=base east,text=navy] at (363pt,-844.5pt) {LRMP};
\node[anchor=base east,text=navy] at (388pt,-857pt) {CASC1};
\node[anchor=base east,text=navy] at (434pt,-868pt) {ETFRF1};
\node[anchor=base east,text=ured] at (437.5pt,-844.5pt) {KRAS};
\node[anchor=base east,text=navy] at (571.5pt,-844.5pt) {LMNTD};
\node[anchor=base east,text=txtgray] at (808.5pt,-844.5pt) {RASSF8};
\node[anchor=base west,text=navy] at (851.7pt,-857pt) {BHLHE41};
\node[anchor=base west,text=navy] at (905pt,-844.5pt) {SSPN};
\end{scope}
% ---------- track labels ----------
\lab{txtred}{180}{LOW compartments}
\lab{txtred}{241.7}{HIGH compartments}
\lab{txtgray}{295}{LOW - Ins. Scores}
\lab{txtgray}{359.7}{HIGH - Ins. Scores}
\lab{txtred}{400.7}{Intra-TAD inter. LFC}
\lab{txtred}{431.7}{H3K36me2\ \ subtract H-L}
\lab{txtblue}{475}{H3K27me3 subtract H-L}
\lab{txtgreen}{515}{LOW - H3K27ac}
\lab{txtgreen}{546.7}{HIGH - H3K27ac}
\lab{txtgreen}{601.7}{H3K27ac subtract H-L}
\lab{txtolive}{651.7}{ATAC subtract H-L}
\lab{txtpurple}{707.7}{CTCF subtract H-L}
\lab{txtorange}{755}{RAD21 subtract H-L}
\lab{txtgray}{783.3}{LOW - RNAseq}
\lab{txtgray}{811.7}{HIGH - RNAseq}
\lab{txtgray}{849}{Genes}
% ---------- tick labels ----------
\tl{ured}{143.3}{80}
\tl{txtgray}{171.7}{0}
\tl{txtblue}{195}{-80}
\tl{ured}{204}{80}
\tl{txtgray}{230.7}{0}
\tl{txtblue}{250.7}{-80}
\tl{txtgray}{268.3}{0.9}
\tl{txtgray}{276.7}{0}
\tl{lgray}{318.3}{-3}
\tl{txtgray}{332.7}{0.9}
\tl{txtgray}{349.3}{0}
\tl{lgray}{366.7}{-3}
\tl{ured}{395}{0.55}
\tl{txtblue}{413.3}{-0.4}
\tl{ured}{425}{6.26}
\tl{txtblue}{455}{-6.71}
\tl{txtblue}{465}{17.37}
\tl{ured}{486.7}{-4.35}
\tl{txtgreen}{497.3}{3000}
\tl{txtgreen}{516.7}{0}
\tl{txtgreen}{529.3}{3000}
\tl{txtgreen}{545.3}{0}
\tl{txtgreen}{556.7}{50}
\tl{txtblue}{613.3}{-10}
\tl{txtolive}{625}{37.9}
\tl{txtblue}{668.3}{-15.8}
\tl{txtpurple}{678.3}{86.34}
\tl{txtblue}{726.7}{-18.73}
\tl{txtorange}{736.7}{25.39}
\tl{txtblue}{764}{-8.41}
\tl{txtgray}{773.3}{10000}
\tl{txtgray}{798.3}{0}
\tl{txtgray}{808.3}{10000}
\tl{txtgray}{832.7}{0}
% ---------- annotations ----------
\begin{scope}[every node/.style={inner sep=0pt,font=\fs{13}\bfseries,text=annog}]
\node at (285pt,-375pt) {1};
\node at (814.3pt,-373.3pt) {2};
\node at (471.5pt,-565pt) {SE};
\end{scope}
\draw[annog,line width=1.4pt,-{Latex[length=5pt,width=4.5pt]}] (293pt,-378.3pt)--(313.3pt,-390pt);
\draw[annog,line width=1.4pt,-{Latex[length=5pt,width=4.5pt]}] (820pt,-378.3pt)--(839.3pt,-390.7pt);
\draw[annog,line width=1.4pt,-{Latex[length=5pt,width=4.5pt]}] (483pt,-566pt)--(503pt,-585pt);
\end{tikzpicture}
\end{document}
